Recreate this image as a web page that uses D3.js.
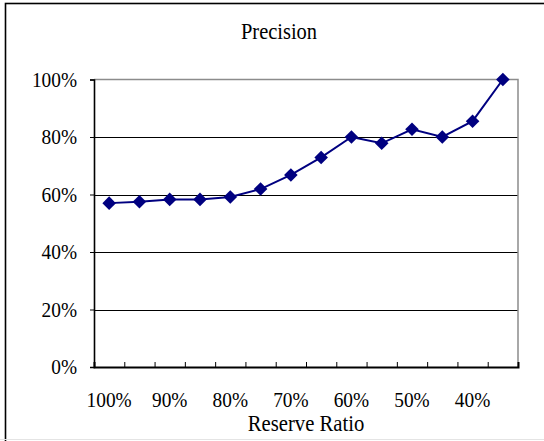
<!DOCTYPE html>
<html>
<head>
<meta charset="utf-8">
<script src="https://cdn.jsdelivr.net/npm/d3@7"></script>
<style>
  html, body { margin: 0; padding: 0; background: #fff; }
  svg { display: block; }
  text { font-family: "Liberation Serif", "DejaVu Serif", serif; fill: #000; }
</style>
</head>
<body>
<svg id="chart" width="544" height="441"></svg>
<script>
// Reserve ratio categories (x axis) and precision values in percent
const categories = ["100%", "95%", "90%", "85%", "80%", "75%", "70%", "65%", "60%", "55%", "50%", "45%", "40%", "35%"];
const precision = [57, 57.5, 58.3, 58.3, 59.1, 61.9, 66.8, 72.9, 80, 77.8, 82.7, 80, 85.5, 100];
const xTickLabels = ["100%", "90%", "80%", "70%", "60%", "50%", "40%"];
const yTicks = [0, 20, 40, 60, 80, 100];

const svg = d3.select("#chart");
const plot = { left: 94, right: 518, top: 79.5, bottom: 367 };
const narrow = 0.9;   // horizontal squeeze for a tall, narrow serif look
const labelSize = 21.5;

// Outer chart frame
svg.append("rect")
  .attr("x", 5.5).attr("y", 3.5)
  .attr("width", 560).attr("height", 470)
  .attr("fill", "#fff").attr("stroke", "#000").attr("stroke-width", 1.6);
svg.append("line")
  .attr("x1", 0).attr("x2", 544).attr("y1", 439.5).attr("y2", 439.5)
  .attr("stroke", "#e4e4e4").attr("stroke-width", 1);

const x = d3.scaleBand().domain(categories).range([plot.left, plot.right]).paddingInner(0).paddingOuter(0);
const xIdx = d3.scaleLinear().domain([0, categories.length]).range([plot.left, plot.right]);
const y = d3.scaleLinear().domain([0, 100]).range([plot.bottom, plot.top]);

// Horizontal gridlines
svg.append("g")
  .selectAll("line")
  .data(yTicks.filter(v => v > 0 && v < 100))
  .join("line")
  .attr("x1", plot.left).attr("x2", plot.right)
  .attr("y1", d => Math.round(y(d)) + 0.5).attr("y2", d => Math.round(y(d)) + 0.5)
  .attr("stroke", "#000").attr("stroke-width", 1);

// Plot area top and right border
svg.append("path")
  .attr("d", `M${plot.left},${plot.top}H${plot.right}V${plot.bottom}`)
  .attr("fill", "none").attr("stroke", "#8c8c8c").attr("stroke-width", 1.5);

// Y axis
const yAxis = svg.append("g")
  .attr("transform", `translate(${plot.left},0)`)
  .call(d3.axisLeft(y).tickValues(yTicks).tickFormat(d => d + "%").tickSize(4).tickPadding(13));
yAxis.select(".domain").attr("stroke", "#000").attr("stroke-width", 1.6);
yAxis.selectAll(".tick line").attr("stroke", "#000");
yAxis.selectAll(".tick text")
  .attr("font-family", "Liberation Serif, serif")
  .attr("font-size", labelSize)
  .attr("x", -17 / narrow)
  .attr("transform", `scale(${narrow},1)`)
  .attr("fill", "#000");

// X axis: inner tick marks on category boundaries
const xAxis = svg.append("g")
  .attr("transform", `translate(0,${plot.bottom})`)
  .call(d3.axisBottom(xIdx).tickValues(d3.range(1, categories.length)).tickSize(-5).tickFormat(""));
xAxis.select(".domain").attr("stroke", "#000").attr("stroke-width", 2);
xAxis.selectAll(".tick line").attr("stroke", "#000");

// X axis labels, every other category
const xLabels = svg.append("g")
  .attr("transform", `translate(0,${plot.bottom})`)
  .call(d3.axisBottom(x).tickValues(xTickLabels).tickSize(0).tickPadding(25));
xLabels.select(".domain").remove();
xLabels.selectAll(".tick text")
  .attr("font-family", "Liberation Serif, serif")
  .attr("font-size", labelSize)
  .attr("transform", `scale(${narrow},1)`)
  .attr("fill", "#000");

// Data line and diamond markers
const cx = c => x(c) + x.bandwidth() / 2;
const pts = categories.map((c, i) => ({ c, v: precision[i] }));

svg.append("path")
  .datum(pts)
  .attr("fill", "none")
  .attr("stroke", "#000080")
  .attr("stroke-width", 2)
  .attr("d", d3.line().x(d => cx(d.c)).y(d => y(d.v)));

svg.append("g")
  .selectAll("path")
  .data(pts)
  .join("path")
  .attr("d", d3.symbol(d3.symbolSquare, 92))
  .attr("transform", d => `translate(${cx(d.c)},${y(d.v)}) rotate(45)`)
  .attr("fill", "#000080");

// Titles
svg.append("text")
  .attr("transform", `translate(279,38.5) scale(0.87,1)`)
  .attr("text-anchor", "middle")
  .attr("font-size", 23.5)
  .text("Precision");

svg.append("text")
  .attr("transform", `translate(${(plot.left + plot.right) / 2},431) scale(0.88,1)`)
  .attr("text-anchor", "middle")
  .attr("font-size", 23.5)
  .text("Reserve Ratio");
</script>
</body>
</html>
